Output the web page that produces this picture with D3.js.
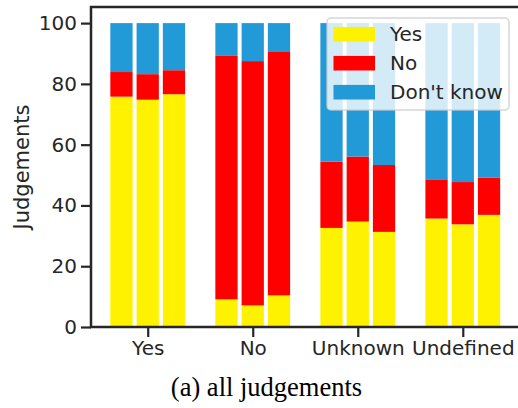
<!DOCTYPE html>
<html><head><meta charset="utf-8">
<script src="https://cdn.jsdelivr.net/npm/d3@7"></script>
<style>body{margin:0;background:#fff}svg{display:block}</style>
</head><body>
<script>
const categories = ["Yes", "No", "Unknown", "Undefined"];
const seriesNames = ["Yes", "No", "Don't know"];
const colors = ["#FFF200", "#FF0000", "#219AD7"];
// three bars per category; yes, no, don't know (percent)
const yesValues = [[75.8, 74.8, 76.6], [9.1, 7.1, 10.4], [32.6, 34.7, 31.3], [35.7, 33.8, 36.9]];
const noValues  = [[8.1, 8.4, 7.9], [80.1, 80.4, 80.1], [21.8, 21.4, 22.0], [12.9, 13.9, 12.3]];
const dkValues  = [[16.1, 16.8, 15.5], [10.8, 12.5, 9.5], [45.6, 43.9, 46.7], [51.4, 52.3, 50.8]];
const yTicks = [0, 20, 40, 60, 80, 100];
const yLabel = "Judgements";
const caption = "(a) all judgements";

(function () {
const W = 518, H = 408;
const svg = d3.select("body").append("svg").attr("width", W).attr("height", H);
const mLeft = 91, mRight = 519.5, mTop = 7, mBottom = 327;
const x = d3.scaleLinear().domain([-0.54, 3.54]).range([mLeft, mRight]);
const y = d3.scaleLinear().domain([0, 105.3]).range([mBottom, mTop]);
const offsets = [-0.25, 0, 0.25];
const bw = 0.212;

const rows = [];
categories.forEach((c, i) => {
  offsets.forEach((o, j) => {
    const vals = [yesValues[i][j], noValues[i][j], dkValues[i][j]];
    let acc = 0;
    vals.forEach((v, k) => {
      rows.push({pos: i + o, y0: acc, y1: acc + v, k});
      acc += v;
    });
  });
});

svg.append("g").selectAll("rect").data(rows).join("rect")
  .attr("x", d => x(d.pos - bw / 2))
  .attr("width", d => x(bw) - x(0))
  .attr("y", d => y(d.y1))
  .attr("height", d => y(d.y0) - y(d.y1))
  .attr("fill", d => colors[d.k]);

const font = "DejaVu Sans";
const tc = "#262626";
const ya = svg.append("g").attr("transform", `translate(${mLeft},0)`)
  .call(d3.axisLeft(y).tickValues(yTicks).tickSize(10).tickPadding(4));
const xa = svg.append("g").attr("transform", `translate(0,${mBottom})`)
  .call(d3.axisBottom(x).tickValues(d3.range(categories.length)).tickFormat(i => categories[i]).tickSize(10).tickPadding(4));
[ya, xa].forEach(g => {
  g.select(".domain").remove();
  g.selectAll("line").attr("stroke", tc).attr("stroke-width", 2.2);
  g.selectAll("text").attr("fill", tc).attr("font-family", font).attr("font-size", 20);
});
svg.append("rect").attr("x", mLeft).attr("y", mTop).attr("width", mRight - mLeft).attr("height", mBottom - mTop)
  .attr("fill", "none").attr("stroke", tc).attr("stroke-width", 2.5);

svg.append("text").attr("transform", `translate(29,${(mTop + mBottom) / 2}) rotate(-90)`)
  .attr("text-anchor", "middle").attr("font-family", font).attr("font-size", 21).attr("fill", tc)
  .text(yLabel);

const lg = svg.append("g");
lg.append("rect").attr("x", 327).attr("y", 18).attr("width", 182).attr("height", 92).attr("rx", 4)
  .attr("fill", "#fff").attr("fill-opacity", 0.8).attr("stroke", "#cccccc").attr("stroke-opacity", 0.8).attr("stroke-width", 1.5);
seriesNames.forEach((s, k) => {
  const cy = 34.2 + k * 29;
  lg.append("rect").attr("x", 333.5).attr("y", cy - 7.3).attr("width", 41.5).attr("height", 14.6).attr("fill", colors[k]);
  lg.append("text").attr("x", 390).attr("y", cy + 7).attr("font-family", font).attr("font-size", 20).attr("fill", tc).text(s);
});

svg.append("text").attr("x", 266.5).attr("y", 396).attr("text-anchor", "middle")
  .attr("font-family", "Liberation Serif").attr("font-size", 26.5).attr("fill", "#000").text(caption);
})();
</script>
</body></html>
